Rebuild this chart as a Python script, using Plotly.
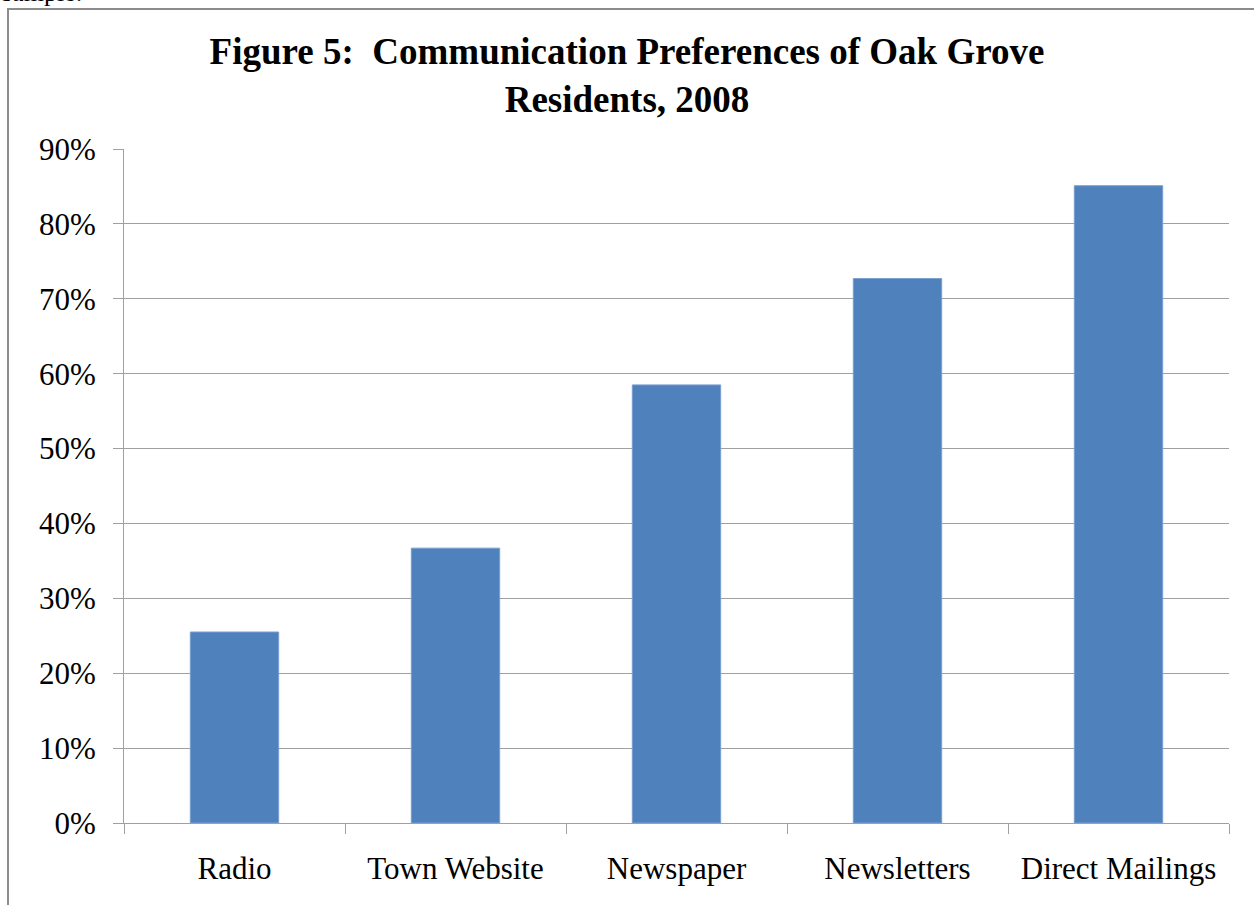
import plotly.graph_objects as go

categories = ["Radio", "Town Website", "Newspaper", "Newsletters", "Direct Mailings"]
values = [0.255, 0.367, 0.585, 0.727, 0.851]
y_ticks = [0, 0.1, 0.2, 0.3, 0.4, 0.5, 0.6, 0.7, 0.8, 0.9]
y_tick_labels = ["0%", "10%", "20%", "30%", "40%", "50%", "60%", "70%", "80%", "90%"]
title_text = "<b>Figure 5:  Communication Preferences of Oak Grove<br>Residents, 2008</b>"

W, H = 1254, 905
L, R, T, B = 124, 25, 149, 82
pw, ph = W - L - R, H - T - B

fig = go.Figure(go.Bar(
    x=categories, y=values,
    marker=dict(color="#4F81BD", line=dict(color="#7A9FD0", width=1)),
    width=0.4,
))

serif = "Liberation Serif, Times New Roman, serif"
grid = "#A0A0A0"

fig.update_layout(
    width=W, height=H,
    margin=dict(l=L, r=R, t=T, b=B),
    paper_bgcolor="white", plot_bgcolor="white",
    showlegend=False,
    font=dict(family=serif, color="black"),
    title=dict(text=title_text, x=0.5, xanchor="center", y=1 - 64 / H, yanchor="middle",
               font=dict(family=serif, size=37, color="black")),
    xaxis=dict(showline=True, linecolor=grid, linewidth=1, ticks="outside", ticklen=10,
               tickcolor=grid, tickson="boundaries", showgrid=False,
               tickfont=dict(family=serif, size=31, color="black"), ticklabelstandoff=18),
    yaxis=dict(range=[0, 0.9], tickvals=y_ticks, ticktext=y_tick_labels,
               showline=True, linecolor=grid, linewidth=1, ticks="outside", ticklen=10,
               tickcolor=grid, showgrid=True, gridcolor=grid, gridwidth=1, zeroline=False,
               tickfont=dict(family=serif, size=31, color="black"), ticklabelstandoff=11),
    shapes=[dict(type="rect", xref="paper", yref="paper",
                 x0=(8 - L) / pw, x1=(W + 10 - L) / pw,
                 y0=-(B + 10) / ph, y1=1 + (T - 9) / ph,
                 line=dict(color="#8C8C8C", width=2), fillcolor="rgba(0,0,0,0)", layer="below")],
    annotations=[dict(text="sample.", xref="paper", yref="paper",
                      x=(0 - L) / pw, y=1 + (T - 9) / ph, xanchor="left", yanchor="bottom",
                      showarrow=False, font=dict(family=serif, size=26, color="black"))],
)

fig.write_html("out.html", config={"displayModeBar": False},
               post_script="document.body.style.margin='0';")
